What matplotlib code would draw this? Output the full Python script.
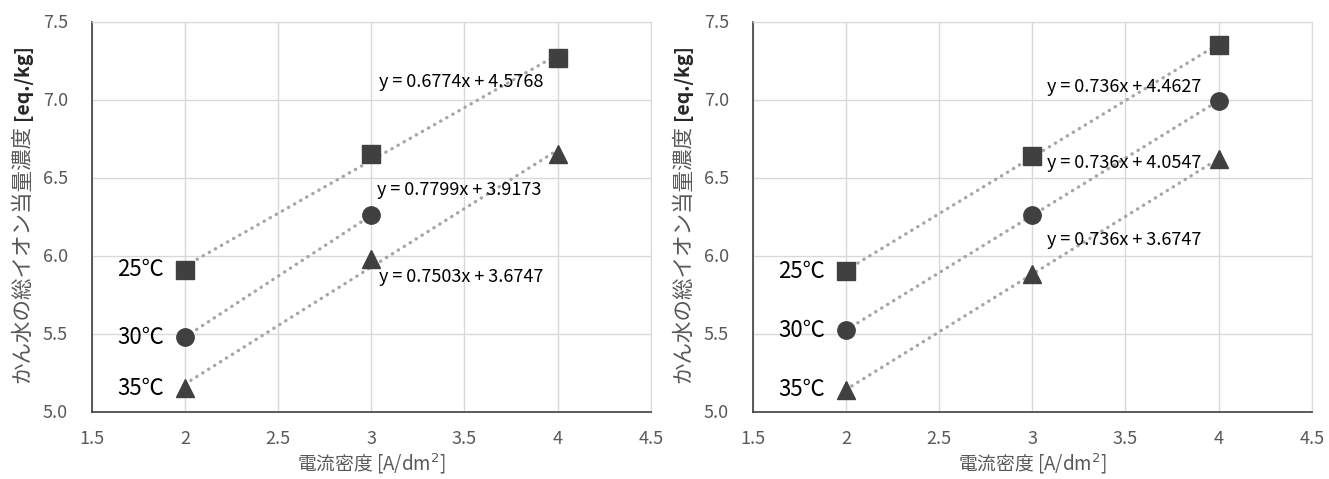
import numpy as np
import matplotlib
matplotlib.use("Agg")
import matplotlib.pyplot as plt

plt.rcParams['font.family'] = ['Noto Sans CJK JP', 'DejaVu Sans']

temps = ["25℃", "30℃", "35℃"]
markers = ["s", "o", "^"]

# left chart
left_x = {"25℃": [2, 3, 4], "30℃": [2, 3], "35℃": [2, 3, 4]}
left_y = {"25℃": [5.91, 6.652, 7.265], "30℃": [5.477, 6.257], "35℃": [5.15, 5.976, 6.65]}
left_eq = ["y = 0.6774x + 4.5768", "y = 0.7799x + 3.9173", "y = 0.7503x + 3.6747"]
left_eq_pos = [(3.04, 7.11), (3.03, 6.42), (3.04, 5.86)]

# right chart
right_x = {"25℃": [2, 3, 4], "30℃": [2, 3, 4], "35℃": [2, 3, 4]}
right_y = {"25℃": [5.90, 6.64, 7.35], "30℃": [5.52, 6.26, 6.99], "35℃": [5.14, 5.88, 6.62]}
right_eq = ["y = 0.736x + 4.4627", "y = 0.736x + 4.0547", "y = 0.736x + 3.6747"]
right_eq_pos = [(3.08, 7.08), (3.08, 6.59), (3.08, 6.10)]

xticks = [1.5, 2, 2.5, 3, 3.5, 4, 4.5]
xticklabels = ["1.5", "2", "2.5", "3", "3.5", "4", "4.5"]
yticks = [5.0, 5.5, 6.0, 6.5, 7.0, 7.5]
yticklabels = ["5.0", "5.5", "6.0", "6.5", "7.0", "7.5"]

xlabel = "電流密度 [A/dm$^2$]"
ylabel_jp = "かん水の総イオン当量濃度"
ylabel_unit = "[eq./kg]"

W, H = 1329, 479
fig = plt.figure(figsize=(W / 100, H / 100), dpi=100)

mk_color = "#404040"
txt_color = "#595959"
grid_color = "#d9d9d9"
trend_color = "#a6a6a6"


def draw(ax, xs, ys, eqs, eq_pos):
    ax.set_xlim(1.5, 4.5)
    ax.set_ylim(5.0, 7.5)
    ax.set_xticks(xticks)
    ax.set_xticklabels(xticklabels)
    ax.set_yticks(yticks)
    ax.set_yticklabels(yticklabels)
    ax.grid(True, color=grid_color, lw=1)
    ax.set_axisbelow(True)
    for s in ["top", "right"]:
        ax.spines[s].set_color(grid_color)
    for s in ["left", "bottom"]:
        ax.spines[s].set_color("#404040")
        ax.spines[s].set_linewidth(1.2)
    ax.tick_params(length=0, labelsize=13, colors=txt_color)
    ax.tick_params(axis="y", pad=17)
    ax.tick_params(axis="x", pad=13)
    for t, m in zip(temps, markers):
        x = np.array(xs[t], dtype=float)
        y = np.array(ys[t], dtype=float)
        k, b = np.polyfit(x, y, 1)
        xx = np.array([x.min(), x.max()])
        ax.plot(xx, k * xx + b, color=trend_color, lw=2.4, ls=(0, (0.1, 2.0)),
                dash_capstyle="round", zorder=2)
        ax.plot(x, y, ls="none", marker=m, ms=12.5, color=mk_color,
                mec=mk_color, zorder=3)
        ax.annotate(t, (x[0], y[0]), xytext=(-15, 0), textcoords="offset points",
                    ha="right", va="center", fontsize=16, color="black")
    for e, (px, py) in zip(eqs, eq_pos):
        ax.text(px, py, e, ha="left", va="center", fontsize=13, color="black")
    ax.set_xlabel(xlabel, fontsize=13.5, color=txt_color, labelpad=3)


ax1 = fig.add_axes([91.7 / W, 1 - 411.5 / H, 559 / W, 390 / H])
ax2 = fig.add_axes([752.7 / W, 1 - 411.5 / H, 559 / W, 390 / H])
draw(ax1, left_x, left_y, left_eq, left_eq_pos)
draw(ax2, right_x, right_y, right_eq, right_eq_pos)

# two-part y labels (Japanese in grey, unit in bold)
fig.canvas.draw()
renderer = fig.canvas.get_renderer()
for x0 in [22, 22 + 661]:
    t1 = fig.text(x0 / W, 1 - 383 / H, ylabel_jp, rotation=90, ha="center",
                  va="bottom", fontsize=15.5, color=txt_color)
    bb = t1.get_window_extent(renderer)
    fig.text(x0 / W, (bb.y1 + 5) / H, ylabel_unit, rotation=90, ha="center",
             va="bottom", fontsize=14, color="#262626", fontweight="bold")

fig.savefig("out.png", dpi=100)
